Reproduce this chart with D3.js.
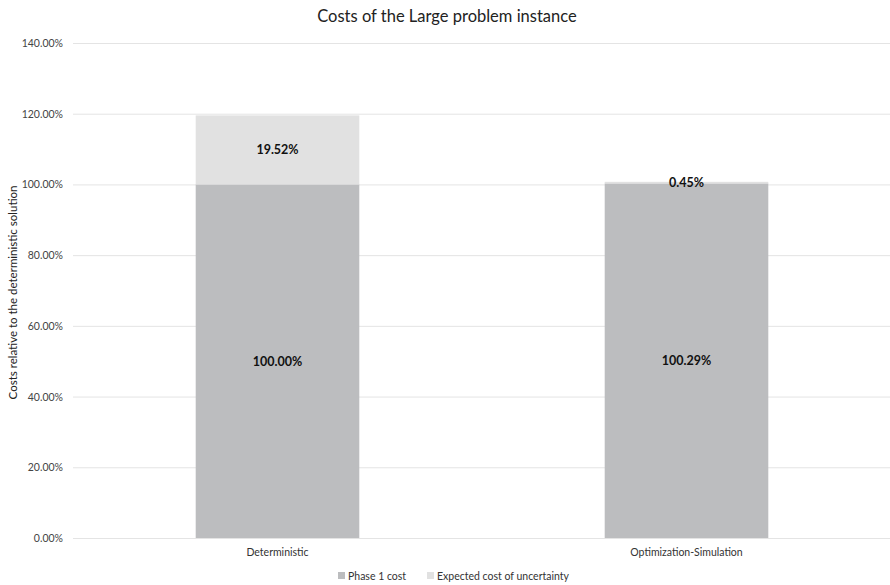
<!DOCTYPE html>
<html>
<head>
<meta charset="utf-8">
<script src="https://cdn.jsdelivr.net/npm/d3@7"></script>
<style>
  html, body { margin: 0; padding: 0; background: #fff; }
  svg { display: block; font-family: Lato, "Open Sans", sans-serif; }
</style>
</head>
<body>
<svg id="chart" width="890" height="585"></svg>
<script>
// Chart data
const categories = ["Deterministic", "Optimization-Simulation"];
const seriesNames = ["Phase 1 cost", "Expected cost of uncertainty"];
const phase1Cost = [100.00, 100.29];
const uncertaintyCost = [19.52, 0.45];
const yTicks = [0, 20, 40, 60, 80, 100, 120, 140];
const seriesColors = ["#bcbdbf", "#e1e1e1"];

const svg = d3.select("#chart");
const W = 890, H = 585;
const plot = { left: 73, right: 891, top: 43, bottom: 538 };

const x = d3.scaleBand().domain(categories).range([plot.left, plot.right]).paddingInner(0.6).paddingOuter(0.3);
const y = d3.scaleLinear().domain([0, 140]).range([plot.bottom, plot.top]);

// Title
svg.append("text")
  .attr("x", 447).attr("y", 22)
  .attr("text-anchor", "middle")
  .attr("font-size", 16.5)
  .attr("fill", "#222")
  .text("Costs of the Large problem instance");

// Gridlines
svg.append("g").selectAll("line").data(yTicks).join("line")
  .attr("x1", plot.left).attr("x2", plot.right)
  .attr("y1", d => y(d) + 0.5).attr("y2", d => y(d) + 0.5)
  .attr("stroke", "#e4e4e4").attr("stroke-width", 1);

// Y tick labels
svg.append("g").selectAll("text").data(yTicks).join("text")
  .attr("x", 63).attr("y", d => y(d) + 4)
  .attr("text-anchor", "end")
  .attr("font-size", 10.5)
  .attr("fill", "#444")
  .text(d => d.toFixed(2) + "%");

// Y axis title
svg.append("text")
  .attr("transform", `translate(17,${(plot.top + plot.bottom) / 2 + 2}) rotate(-90)`)
  .attr("text-anchor", "middle")
  .attr("font-size", 11.5)
  .attr("fill", "#222")
  .text("Costs relative to the deterministic solution");

// Stacked data
const rows = categories.map((c, i) => ({ cat: c, p1: phase1Cost[i], unc: uncertaintyCost[i] }));
const stack = d3.stack().keys(["p1", "unc"])(rows);

const layers = svg.append("g").selectAll("g").data(stack).join("g")
  .attr("fill", (d, i) => seriesColors[i]);

layers.selectAll("rect").data(d => d).join("rect")
  .attr("x", d => x(d.data.cat))
  .attr("width", x.bandwidth())
  .attr("y", d => y(d[1]))
  .attr("height", d => y(d[0]) - y(d[1]));

// Value labels
const labels = svg.append("g");
stack.forEach((layer, li) => {
  layer.forEach(d => {
    const v = li === 0 ? d.data.p1 : d.data.unc;
    labels.append("text")
      .attr("x", x(d.data.cat) + x.bandwidth() / 2)
      .attr("y", (y(d[0]) + y(d[1])) / 2 + 4.5)
      .attr("text-anchor", "middle")
      .attr("font-size", 12.5)
      .attr("font-weight", "bold")
      .attr("fill", "#111")
      .text(v.toFixed(2) + "%");
  });
});

// Category labels
svg.append("g").selectAll("text").data(categories).join("text")
  .attr("x", d => x(d) + x.bandwidth() / 2)
  .attr("y", 556)
  .attr("text-anchor", "middle")
  .attr("font-size", 10.5)
  .attr("fill", "#333")
  .text(d => d);

// Legend
const legend = svg.append("g");
const legendX = [338, 427];
seriesNames.forEach((name, i) => {
  legend.append("rect")
    .attr("x", legendX[i]).attr("y", 572)
    .attr("width", 7).attr("height", 7)
    .attr("fill", seriesColors[i]);
  legend.append("text")
    .attr("x", legendX[i] + 10).attr("y", 580)
    .attr("font-size", 10.5)
    .attr("fill", "#333")
    .text(name);
});
</script>
</body>
</html>
